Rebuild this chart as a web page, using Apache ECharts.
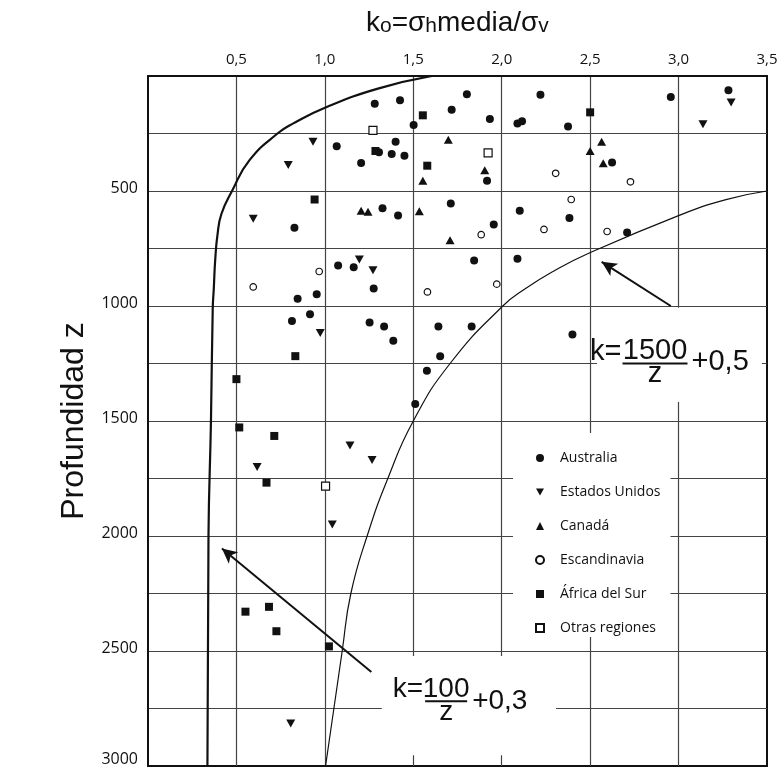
<!DOCTYPE html>
<html>
<head>
<meta charset="utf-8">
<script src="https://cdn.jsdelivr.net/npm/echarts@6/dist/echarts.min.js"></script>
<style>
html,body{margin:0;padding:0;background:#fff;}
#chart{width:777px;height:768px;}
</style>
</head>
<body>
<div id="chart"></div>
<script>
// ---- Data (k0 = sigma_h media / sigma_v , depth z in m) ----
const xTickValues = [0.5, 1.0, 1.5, 2.0, 2.5, 3.0, 3.5];
const xTickLabels = ['0,5', '1,0', '1,5', '2,0', '2,5', '3,0', '3,5'];
const yTickValues = [500, 1000, 1500, 2000, 2500, 3000];
const yTickLabels = ['500', '1000', '1500', '2000', '2500', '3000'];

const seriesNames = ['Australia', 'Estados Unidos', 'Canadá', 'Escandinavia', 'África del Sur', 'Otras regiones'];

const australia = [
  [1.282,121],[1.425,105],[1.502,213],[1.717,147],[1.803,79],[1.933,187],[2.089,207],[2.115,197],
  [2.219,82],[2.375,220],[2.956,91],[3.282,62],
  [1.067,305],[1.400,286],[1.306,331],[1.378,339],[1.450,347],[1.205,378],[1.917,455],[2.624,376],
  [0.828,660],[1.326,575],[1.414,607],[1.712,554],[1.955,646],[2.102,586],[2.383,617],[2.709,680],
  [1.075,824],[1.163,832],[1.276,924],[1.844,802],[2.089,795],[0.846,969],[0.954,949],
  [0.916,1036],[0.814,1065],[1.253,1072],[1.335,1089],[1.387,1151],[1.642,1089],[1.830,1089],
  [2.400,1124],[1.652,1218],[1.577,1282],[1.511,1426]
];
const estadosUnidos = [
  [0.933,286],[0.793,387],[0.595,621],[3.297,115],[3.138,210],[1.195,798],[1.272,845],
  [0.974,1117],[1.142,1607],[1.267,1670],[0.617,1700],[1.042,1950],[0.807,2815]
];
const canada = [
  [1.698,277],[1.904,410],[1.554,455],[1.205,586],[1.244,590],[1.534,588],[1.708,714],
  [2.565,286],[2.500,326],[2.574,379]
];
const escandinavia = [
  [0.968,850],[0.595,917],[2.305,423],[1.884,690],[2.393,537],[2.239,667],[1.580,939],
  [1.972,905],[2.728,460],[2.596,676]
];
const africaSur = [
  [0.942,537],[0.833,1218],[0.500,1318],[0.516,1528],[0.714,1565],[0.670,1768],[0.551,2329],
  [0.684,2308],[0.726,2414],[1.023,2480],[1.554,171],[1.286,326],[1.579,390],[2.500,158]
];
const otrasRegiones = [
  [1.272,236],[1.923,334],[1.004,1783]
];

// limit curves
const curveLow = [ // k = 100/z + 0,3
  [1.605,0],[1.30,55],[1.004,137],[0.819,207],[0.732,250],[0.574,366],[0.475,500],[0.415,600],
  [0.393,690],[0.380,800],[0.372,924],[0.366,1012],[0.356,1500],[0.342,2000],[0.336,3000]
];
const curveHigh = [ // k = 1500/z + 0,5
  [1.004,3000],[1.098,2500],[1.147,2250],[1.239,2000],[1.356,1750],[1.5,1500],[1.708,1250],
  [2.006,1000],[2.135,924],[2.29,850],[2.48,775],[3.0,607],[3.268,537.5],[3.5,500]
];
// arrows: [tail, head]
const arrowHigh = [[2.956,1000],[2.565,808]];
const arrowLow = [[1.263,2591],[0.418,2054]];

// ---- Chart ----
const INK = '#111';
const chart = echarts.init(document.getElementById('chart'), null, {renderer: 'canvas'});

function scatter(name, data, symbol, size, rotate, hollow) {
  return {
    name: name, type: 'scatter', data: data, symbol: symbol, symbolSize: size,
    symbolRotate: rotate || 0,
    itemStyle: hollow ? {color: '#fff', borderColor: INK, borderWidth: 1.2, opacity: 1}
                      : {color: INK, opacity: 1},
    emphasis: {disabled: true}, z: 5
  };
}

const downTri = 'path://M0,0 L10,0 L5,9 Z';
const legendIcons = ['circle', downTri, 'triangle', 'circle', 'rect', 'rect'];

const option = {
  animation: false,
  backgroundColor: '#fff',
  title: {
    text: '{b|k}{s|o}{b|=σ}{s|h}{b|media/σ}{s|v}',
    left: 366, top: 9, padding: 0,
    textStyle: {
      fontWeight: 'normal',
      rich: {
        b: {fontSize: 28, lineHeight: 28, fontFamily: 'Liberation Sans', fontWeight: 'normal', color: INK, verticalAlign: 'bottom'},
        s: {fontSize: 21, lineHeight: 21, fontFamily: 'Liberation Sans', fontWeight: 'normal', color: INK, verticalAlign: 'bottom'}
      }
    }
  },
  grid: {left: 148, top: 76, right: 10, bottom: 2, show: true, borderColor: INK, borderWidth: 2,
         backgroundColor: 'transparent', containLabel: false, outerBoundsMode: 'none'},
  legend: {
    data: seriesNames.map((n, i) => ({name: n, icon: legendIcons[i]})),
    orient: 'vertical', left: 513, top: 433,
    padding: [18, 10, 2, 22],
    backgroundColor: '#fff',
    itemWidth: 8, itemHeight: 8, itemGap: 20,
    selectedMode: false,
    textStyle: {fontFamily: 'Open Sans', fontSize: 14, color: INK, lineHeight: 14, padding: [0, 0, 0, 11]},
    z: 6
  },
  xAxis: {
    type: 'value', position: 'top', min: 0, max: 3.5, interval: 0.5,
    axisLine: {show: true, lineStyle: {color: INK, width: 2}},
    axisTick: {show: false},
    axisLabel: {
      margin: 9, fontFamily: 'Open Sans', fontSize: 15, color: INK,
      formatter: v => { const i = xTickValues.findIndex(t => Math.abs(t - v) < 1e-6); return i >= 0 ? xTickLabels[i] : ''; }
    },
    splitLine: {show: true, showMinLine: false, showMaxLine: false, lineStyle: {color: '#444', width: 1.2}}
  },
  yAxis: {
    type: 'value', inverse: true, min: 0, max: 3000, interval: 250,
    name: 'Profundidad z', nameLocation: 'middle', nameGap: 52,
    nameTextStyle: {fontFamily: 'Liberation Sans', fontSize: 32, color: INK},
    axisLine: {show: true, lineStyle: {color: INK, width: 2}},
    axisTick: {show: false},
    axisLabel: {
      margin: 10, fontFamily: 'Open Sans', fontSize: 16, color: INK,
      formatter: v => {
        const i = yTickValues.indexOf(v);
        if (i < 0) return '';
        return '{' + (i === yTickValues.length - 1 ? 'last' : 'n') + '|' + yTickLabels[i] + '}';
      },
      rich: {
        n: {fontFamily: 'Open Sans', fontSize: 16, color: INK, padding: [0, 0, 5, 0]},
        last: {fontFamily: 'Open Sans', fontSize: 16, color: INK, padding: [0, 0, 13, 0]}
      }
    },
    splitLine: {show: true, showMinLine: false, showMaxLine: false, lineStyle: {color: '#444', width: 1.2}}
  },
  series: [
    {
      name: 'k=100/z+0,3', type: 'line', data: curveLow, showSymbol: false, symbol: 'none',
      smooth: 0.5, lineStyle: {color: INK, width: 2.2}, emphasis: {disabled: true}, z: 3,
      markLine: {
        silent: true, symbol: ['none', 'arrow'], symbolSize: [11, 15],
        label: {show: false},
        lineStyle: {color: INK, width: 2, type: 'solid'},
        data: [
          [{coord: arrowHigh[0]}, {coord: arrowHigh[1]}],
          [{coord: arrowLow[0]}, {coord: arrowLow[1]}]
        ]
      }
    },
    {
      name: 'k=1500/z+0,5', type: 'line', data: curveHigh, showSymbol: false, symbol: 'none',
      smooth: 0.5, lineStyle: {color: INK, width: 1.2}, emphasis: {disabled: true}, z: 3
    },
    scatter(seriesNames[0], australia, 'circle', 8, 0, false),
    scatter(seriesNames[1], estadosUnidos, 'triangle', [9, 8], 180, false),
    scatter(seriesNames[2], canada, 'triangle', [9, 8], 0, false),
    scatter(seriesNames[3], escandinavia, 'circle', 6.5, 0, true),
    scatter(seriesNames[4], africaSur, 'rect', 8, 0, false),
    scatter(seriesNames[5], otrasRegiones, 'rect', 8, 0, true)
  ]
};
chart.setOption(option);

// ---- formula annotations (white boxes cut the grid, as in the figure) ----
function px(pt) { return chart.convertToPixel({gridIndex: 0}, pt); }
function box(a, b) {
  const p = px(a), q = px(b);
  return {type: 'rect', z: 10, silent: true,
          shape: {x: p[0], y: p[1], width: q[0] - p[0], height: q[1] - p[1]},
          style: {fill: '#fff'}};
}
function txt(x, y, s, size, align) {
  return {type: 'text', z: 12, silent: true, x: x, y: y,
          style: {text: s, fontFamily: 'Liberation Sans', fontSize: size, fill: INK,
                  align: align, verticalAlign: 'middle'}};
}
function fraction(anchor, num, tail, size, barW, o) {
  const p = px(anchor);
  const x = p[0], y = p[1];
  return [
    txt(x + o.kx, y + o.ky, 'k=', size, 'right'),
    txt(x + barW / 2, y + o.ny, num, size, 'center'),
    {type: 'line', z: 12, silent: true, shape: {x1: x, y1: y, x2: x + barW, y2: y},
     style: {stroke: INK, lineWidth: 2}},
    txt(x + barW / 2, y + o.zy, 'z', size, 'center'),
    txt(x + barW + o.tx, y + o.ty, tail, size, 'left')
  ];
}
const graphics = [
  box([2.539, 1008], [3.471, 1417]),
  box([1.322, 2522], [2.307, 2953])
].concat(
  fraction([2.683, 1250], '1500', '+0,5', 29, 65, {kx: -1, ky: -12, ny: -13, zy: 10, tx: 4, ty: -2}),
  fraction([1.567, 2719], '100', '+0,3', 28, 42, {kx: -2, ky: -12, ny: -12.5, zy: 10.5, tx: 5, ty: 0})
);
chart.setOption({graphic: graphics});
</script>
</body>
</html>
